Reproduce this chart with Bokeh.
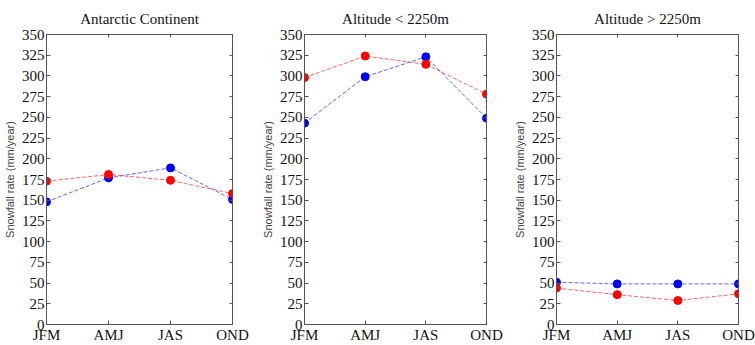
from bokeh.plotting import figure
from bokeh.layouts import row
from bokeh.models import LinearAxis, FixedTicker, Range1d
from bokeh.embed import file_html
from bokeh.resources import INLINE

seasons = ["JFM", "AMJ", "JAS", "OND"]
y_ticks = [0, 25, 50, 75, 100, 125, 150, 175, 200, 225, 250, 275, 300, 325, 350]

titles = ["Antarctic Continent", "Altitude < 2250m", "Altitude > 2250m"]
red_continent = [173, 181, 174, 158]
blue_continent = [148, 177, 189, 151]
red_low = [298, 324, 314, 278]
blue_low = [243, 299, 323, 249]
red_high = [44, 36, 29, 37]
blue_high = [51, 49, 49, 49]

SERIF = "Liberation Serif"
SANS = "Liberation Sans"
AX = "#555555"


def panel(title, red, blue, width, bl, br):
    xs = list(range(len(seasons)))
    p = figure(width=width, height=345, output_backend="svg", toolbar_location=None,
               x_range=Range1d(0, len(seasons) - 1), y_range=Range1d(y_ticks[0], y_ticks[-1]),
               min_border_left=bl, min_border_right=br, min_border_top=33, min_border_bottom=20,
               title=title)
    p.title.text_font = SERIF
    p.title.text_font_size = "15px"
    p.title.text_font_style = "normal"
    p.title.align = "center"
    p.title.offset = 5
    p.title.text_color = "#111111"
    p.title.standoff = 16
    p.grid.visible = False
    p.outline_line_color = AX
    p.outline_line_alpha = 1
    p.background_fill_color = "white"
    p.border_fill_color = "white"

    p.xaxis.ticker = FixedTicker(ticks=xs)
    p.xaxis.major_label_overrides = {i: s for i, s in enumerate(seasons)}
    p.yaxis.ticker = FixedTicker(ticks=y_ticks)
    for ax in (p.xaxis[0], p.yaxis[0]):
        ax.major_tick_in = 4
        ax.major_tick_out = 0
        ax.minor_tick_line_color = None
        ax.axis_line_color = AX
        ax.major_tick_line_color = AX
        ax.major_label_text_font = SERIF
        ax.major_label_text_font_size = "15px"
        ax.major_label_text_color = "#111111"
        ax.major_label_standoff = 2
    p.yaxis.axis_label = "Snowfall rate (mm/year)"
    p.yaxis.axis_label_text_font = SANS
    p.yaxis.axis_label_text_font_size = "11px"
    p.yaxis.axis_label_text_font_style = "normal"
    p.yaxis.axis_label_standoff = 3

    ra = LinearAxis(ticker=FixedTicker(ticks=y_ticks), major_tick_in=3, major_tick_out=0,
                    minor_tick_line_color=None,
                    major_label_overrides={t: "" for t in y_ticks},
                    axis_line_color=AX, major_tick_line_color=AX, major_label_standoff=0)
    p.add_layout(ra, "right")
    ta = LinearAxis(ticker=FixedTicker(ticks=xs), major_tick_in=3, major_tick_out=0,
                    minor_tick_line_color=None,
                    major_label_overrides={i: "" for i in xs},
                    axis_line_color=AX, major_tick_line_color=AX, major_label_standoff=0)
    p.add_layout(ta, "above")

    p.line(xs, blue, line_color="#3333ff", line_alpha=0.75, line_width=1, line_dash="4 2")
    p.scatter(xs, blue, size=8, fill_color="#0000ff", line_color="#0000ff")
    p.line(xs, red, line_color="#ff3333", line_alpha=0.75, line_width=1, line_dash="4 2")
    p.scatter(xs, red, size=8, fill_color="#ff0000", line_color="#ff0000")
    return p


p1 = panel(titles[0], red_continent, blue_continent, 258, 46, 26)
p2 = panel(titles[1], red_low, blue_low, 252, 41, 24)
p3 = panel(titles[2], red_high, blue_high, 245, 43, 17)

layout = row(p1, p2, p3)
open("out.html", "w").write(file_html(layout, INLINE))
